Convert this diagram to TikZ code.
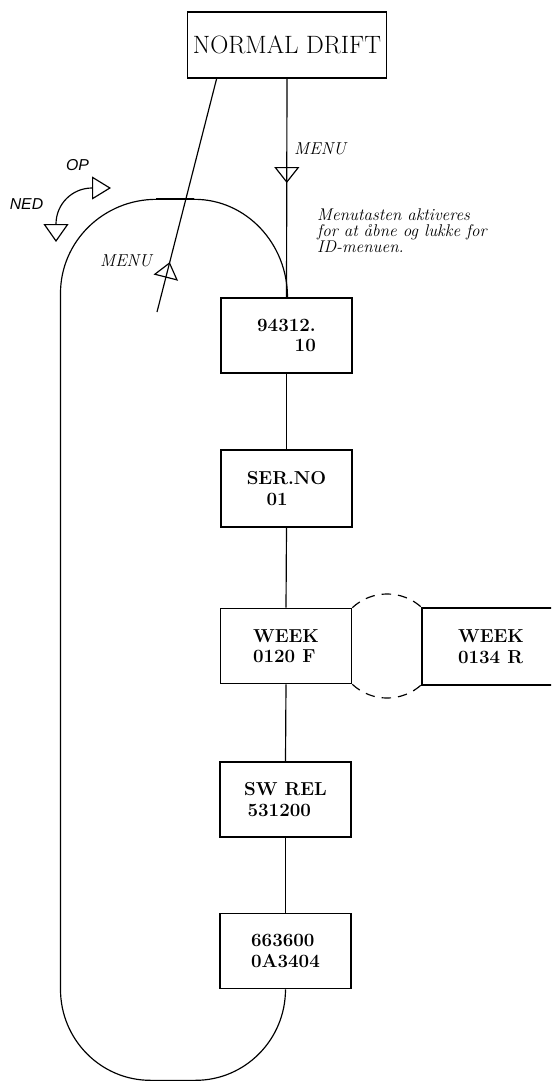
\documentclass[tikz,border=0pt]{standalone}
\usepackage{fontspec}
\setsansfont{Liberation Sans}
\usetikzlibrary{arrows.meta,decorations.markings}

\begin{document}
\begin{tikzpicture}[x=0.03cm,y=0.03cm,
  menubox/.style={draw,line width=1.4pt,minimum width=3.93cm,minimum height=2.25cm,
    inner sep=0pt,font=\fontsize{16}{17.5}\selectfont\bfseries},
  link/.style={line width=1pt},
  midhead/.style={postaction={decorate},decoration={markings,
    mark=at position #1 with {\arrow{Triangle[open,length=0.48cm,width=0.75cm]}}}},
  menutext/.style={inner sep=0pt,font=\fontsize{14.7}{16}\selectfont\itshape},
  keytext/.style={inner sep=0pt,font=\fontsize{13.5}{16}\selectfont\sffamily\itshape}]
\path[use as bounding box] (0,0) rectangle (551,-1081);
\clip (0,0) rectangle (551,-1081);
% boxes
\node[draw,line width=1.6pt,minimum width=5.97cm,minimum height=1.98cm,inner sep=0pt,
  font=\fontsize{21.4}{23}\selectfont] (drift) at (287,-45) {NORMAL DRIFT};
\node[menubox,align=right] (id) at (286.5,-335.5) {94312.\\10};
\node[menubox,align=left,minimum height=2.31cm] (serno) at (286.5,-488.5) {SER.NO\\\hspace*{17pt}01};
\node[menubox,align=left] (weekf) at (286,-646) {WEEK\\0120 F};
\node[menubox,align=left,minimum width=4.14cm,minimum height=2.31cm] (weekr) at (491,-646.5) {WEEK\\0134 R};
\node[menubox,align=left] (swrel) at (285.5,-799.5) {SW REL\\\hspace*{3pt}531200};
\node[menubox,align=left] (serial) at (285.5,-951) {663600\\0A3404};
% menu key
\draw[link,midhead=0.477] (drift.south) -- (id.north);
\node[menutext,anchor=west] (menuA) at (294,-149) {MENU};
\coordinate (menuend) at (157,-312);
\draw[link,midhead=0.214] (menuend) -- ([xshift=0.9cm]drift.south west);
\node[menutext,anchor=east] (menuB) at (152,-261) {MENU};
\node[anchor=north west,inner sep=0pt,align=left,
  font=\fontsize{14.5}{14}\selectfont\itshape] (note) at (317,-208)
  {Menutasten aktiveres\\for at åbne og lukke for\\ID-menuen.};
% chain
\draw[link] (id.south) -- (serno.north);
\draw[link] (serno.south) -- (weekf.north);
\draw[link] (weekf.south) -- (swrel.north);
\draw[link] (swrel.south) -- (serial.north);
\draw[link,dash pattern=on 8pt off 6pt] (weekf.north east) arc[start angle=133,end angle=47,radius=1.53cm];
\draw[link,dash pattern=on 8pt off 6pt] (weekf.south east) arc[start angle=227,end angle=313,radius=1.53cm];
% loop back
\draw[link] (serial.south) arc[start angle=0,end angle=-90,x radius=2.7cm,y radius=2.73cm]
  -- ++(-45,0) arc[start angle=270,end angle=180,x radius=2.7cm,y radius=2.73cm]
  -- ++(0,696) arc[start angle=180,end angle=90,x radius=2.88cm,y radius=2.82cm]
  -- ++(38,0) arc[start angle=90,end angle=0,x radius=2.79cm,y radius=2.94cm];
\draw[line width=1.7pt] (156,-199) -- (194,-199);
% up / down keys
\coordinate (nedtip) at (56,-242);
\draw[link,{Triangle[open,length=0.54cm,width=0.75cm]}-{Triangle[open,length=0.57cm,width=0.69cm]}]
  (nedtip) -- ++(0,18) arc[start angle=180,end angle=90,radius=1.08cm] -- ++(19,0);
\node[keytext] (op) at (77.5,-165) {OP};
\node[keytext] (ned) at (26.5,-204) {NED};
\end{tikzpicture}
\end{document}
